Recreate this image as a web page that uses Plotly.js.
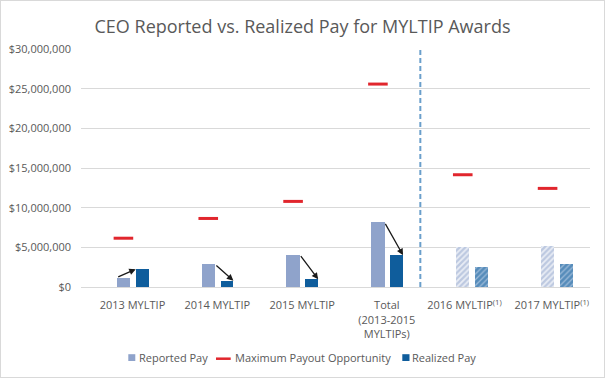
<!DOCTYPE html>
<html>
<head>
<meta charset="utf-8">
<script src="https://cdn.plot.ly/plotly-3.0.1.min.js"></script>
<style>
  html, body { margin: 0; padding: 0; background: #fff; }
  #wrap { position: relative; width: 605px; height: 378px; }
  #chart { width: 605px; height: 378px; }
  #frame { position: absolute; left: 0; top: 0; width: 603px; height: 376px; border: 1px solid #d9d9d9; pointer-events: none; }
</style>
</head>
<body>
<div id="wrap"><div id="chart"></div><div id="frame"></div></div>
<script>
// ---- data ----
const categories = ["2013 MYLTIP", "2014 MYLTIP", "2015 MYLTIP", "Total<br>(2013-2015<br>MYLTIPs)", "2016 MYLTIP<sup>(1)</sup>", "2017 MYLTIP<sup>(1)</sup>"];
const reportedPay = [1190000, 2870000, 4090000, 8150000, 5050000, 5180000];
const maxPayout   = [6150000, 8640000, 10790000, 25580000, 14150000, 12430000];
const realizedPay = [2240000, 800000, 970000, 4010000, 2490000, 2960000];
const projected   = [false, false, false, false, true, true];
const seriesNames = ["Reported Pay", "Maximum Payout Opportunity", "Realized Pay"];

// ---- layout constants ----
const W = 605, H = 378, ML = 81, MR = 15, MT = 49, MB = 91;
const PW = W - ML - MR, PH = H - MT - MB;
const px2x = p => (p - ML) / PW;
const px2y = p => (H - MB - p) / PH;

const labelShift  = [0.107, 0.107, 0.107, 0.105, 0.02, 0.05];
const idx = categories.map((_, i) => i);
const repOffset = -0.079, repWidth = 0.157;
const realOffset = 0.145, realWidth = 0.151;
const cReported = '#8FA3CB', cRealized = '#0F5D9C', cMax = '#E1262D';
const patShapes = projected.map(p => p ? '/' : '');

const traces = [
  {
    type: 'bar', name: seriesNames[0], x: idx, y: reportedPay,
    offset: repOffset, width: repWidth,
    marker: { color: cReported, line: { width: 0 },
      pattern: { shape: patShapes, fillmode: 'overlay', fgcolor: cReported, bgcolor: '#e9edf5', solidity: 0.55, size: 4 } },
    hoverinfo: 'skip', showlegend: false
  },
  {
    type: 'scatter', mode: 'markers', name: seriesNames[1], x: idx, y: maxPayout,
    marker: { symbol: 'line-ew', size: 14, color: cMax, line: { color: cMax, width: 3 } },
    hoverinfo: 'skip', showlegend: false
  },
  {
    type: 'bar', name: seriesNames[2], x: idx, y: realizedPay,
    offset: realOffset, width: realWidth,
    marker: { color: cRealized, line: { width: 0 },
      pattern: { shape: patShapes, fillmode: 'overlay', fgcolor: cRealized, bgcolor: '#9dbbd9', solidity: 0.7, size: 4 } },
    hoverinfo: 'skip', showlegend: false
  }
];

// arrows from reported to realized (first four categories)
const annotations = [];
for (let i = 0; i < 4; i++) {
  const up = realizedPay[i] > reportedPay[i];
  const tailX = up ? i + repOffset : i + repOffset + repWidth;
  const headX = up ? i + realOffset : i + realOffset + realWidth;
  annotations.push({
    x: headX, y: realizedPay[i], ax: tailX, ay: reportedPay[i],
    xref: 'x', yref: 'y', axref: 'x', ayref: 'y',
    text: '', showarrow: true, arrowhead: 2, arrowsize: 1, arrowwidth: 1.3,
    arrowcolor: '#1a1a1a', standoff: 0, startstandoff: 0
  });
}

// manual legend (compact, like the reference)
const legendY = 357.5;
const legendTextX = [137.5, 233.5, 411];
seriesNames.forEach((n, k) => {
  annotations.push({
    xref: 'paper', yref: 'paper', x: px2x(legendTextX[k]), y: px2y(legendY),
    xanchor: 'left', yanchor: 'middle', text: n, showarrow: false,
    font: { size: 11, color: '#595959' }, borderpad: 0
  });
});

const shapes = [
  {
    type: 'line', xref: 'x', yref: 'paper', x0: 3.5, x1: 3.5, y0: 0, y1: 1,
    line: { color: '#6A9FCB', width: 2, dash: '5px,3px' }
  },
  { type: 'rect', xref: 'paper', yref: 'paper', x0: px2x(128.3), x1: px2x(135.3), y0: px2y(361), y1: px2y(354.2),
    fillcolor: cReported, line: { width: 0 } },
  { type: 'line', xref: 'paper', yref: 'paper', x0: px2x(216), x1: px2x(230.7), y0: px2y(358.7), y1: px2y(358.7),
    line: { color: cMax, width: 2.5 } },
  { type: 'rect', xref: 'paper', yref: 'paper', x0: px2x(402.3), x1: px2x(409.5), y0: px2y(361), y1: px2y(354.2),
    fillcolor: cRealized, line: { width: 0 } }
];

const layout = {
  width: W, height: H,
  margin: { l: ML, r: MR, t: MT, b: MB, pad: 0 },
  paper_bgcolor: '#ffffff', plot_bgcolor: '#ffffff',
  font: { family: '"Open Sans", "DejaVu Sans", sans-serif', size: 11, color: '#595959' },
  title: {
    text: 'CEO Reported vs. Realized Pay for MYLTIP Awards',
    font: { family: '"Open Sans", sans-serif', size: 18, color: '#595959' },
    xref: 'container', x: 0.5, xanchor: 'center', yref: 'container', y: 0.93, yanchor: 'middle'
  },
  showlegend: false,
  xaxis: {
    range: [-0.5, 5.5], showgrid: false, zeroline: false, showline: false, automargin: false,
    tickvals: idx.map(i => i + labelShift[i]), ticktext: categories,
    ticks: 'outside', ticklen: 8, tickcolor: 'rgba(0,0,0,0)', tickfont: { size: 11, color: '#595959' }, fixedrange: true
  },
  yaxis: {
    range: [0, 30000000], dtick: 5000000, tickprefix: '$', tickformat: ',d', automargin: false,
    showgrid: true, gridcolor: '#d9d9d9', gridwidth: 1,
    zeroline: true, zerolinecolor: '#d9d9d9', zerolinewidth: 1,
    showline: false, ticks: '', ticklabelstandoff: 9, tickfont: { size: 11, color: '#595959' }, fixedrange: true
  },
  shapes: shapes,
  annotations: annotations,
  bargap: 0
};

Plotly.newPlot('chart', traces, layout, { staticPlot: true, displayModeBar: false });
</script>
</body>
</html>
